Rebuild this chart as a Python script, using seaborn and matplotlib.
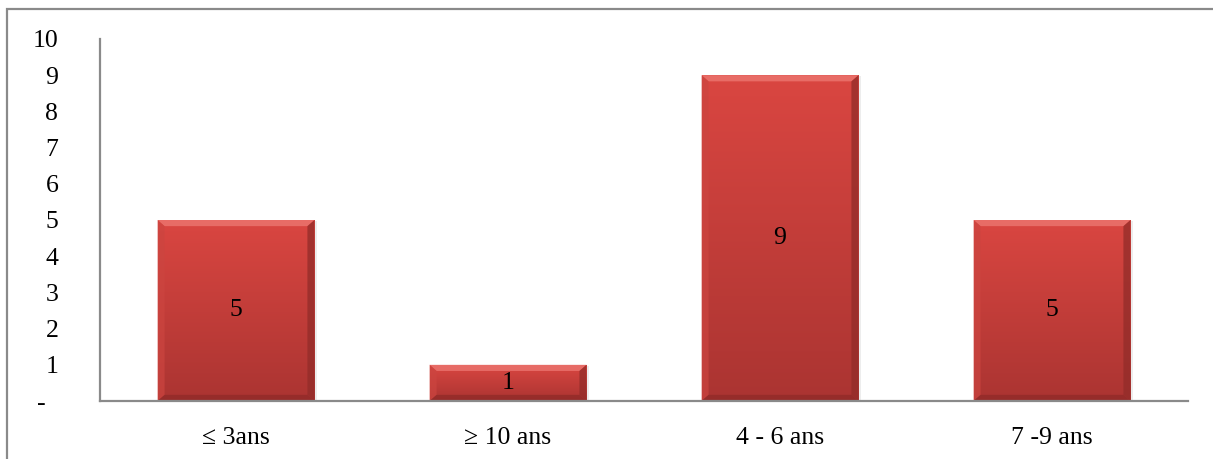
import numpy as np
import pandas as pd
import matplotlib
matplotlib.use("Agg")
import matplotlib.pyplot as plt
from matplotlib.patches import Rectangle, Polygon
import seaborn as sns

categories = ["\u2264 3ans", "\u2265 10 ans", "4 - 6 ans", "7 -9 ans"]
counts = [5, 1, 9, 5]
y_ticks = [0, 1, 2, 3, 4, 5, 6, 7, 8, 9, 10]
y_labels = ["-  ", "1", "2", "3", "4", "5", "6", "7", "8", "9", "10"]

sns.set_theme(style="white")
plt.rcParams["font.family"] = ["Liberation Serif", "DejaVu Serif"]

W, H, DPI = 1213, 459, 100
FS = 18.5
fig = plt.figure(figsize=(W / DPI, H / DPI), dpi=DPI)
fig.patch.set_facecolor("white")

# axes placed in pixel terms
x0, x1 = 100, 1188
y_top, y_bot = 39, 401
ax = fig.add_axes([x0 / W, 1 - y_bot / H, (x1 - x0) / W, (y_bot - y_top) / H])

df = pd.DataFrame({"cat": categories, "n": counts})
sns.barplot(data=df, x="cat", y="n", ax=ax, color="#c83c38", width=0.577,
            saturation=1, edgecolor="none", linewidth=0, zorder=2)

ax.set_ylim(0, 10)
ax.set_xlim(-0.5, len(categories) - 0.5)
ax.set_yticks(y_ticks)
ax.set_yticklabels(y_labels)
ax.set_xlabel("")
ax.set_ylabel("")
ax.tick_params(axis="y", length=0, pad=30, labelsize=FS, labelcolor="black")
ax.tick_params(axis="x", length=0, pad=19, labelsize=FS, labelcolor="black")
ax.grid(False)
for side in ["top", "right"]:
    ax.spines[side].set_visible(False)
for side in ["left", "bottom"]:
    ax.spines[side].set_color("#8a8a8a")
    ax.spines[side].set_linewidth(1.6)
    ax.spines[side].set_zorder(5)

# bevelled gradient look on each bar
grad = np.linspace(0, 1, 256).reshape(-1, 1)
top_col = np.array([0.855, 0.275, 0.255])
bot_col = np.array([0.67, 0.205, 0.195])
for p in list(ax.patches):
    bx, by = p.get_x(), p.get_y()
    bw, bh = p.get_width(), p.get_height()
    p.set_visible(False)
    # soft shadow to the right
    ax.add_patch(Rectangle((bx + bw * 0.02, by), bw * 0.995, bh - 0.03,
                           facecolor="black", alpha=0.07, edgecolor="none", zorder=1.5))
    img = top_col[None, None, :] * (1 - grad[:, :, None]) + bot_col[None, None, :] * grad[:, :, None]
    im = ax.imshow(img, extent=[bx, bx + bw, by, by + bh], aspect="auto",
                   origin="upper", zorder=2, interpolation="bilinear")
    clip = Rectangle((bx, by), bw, bh, transform=ax.transData)
    im.set_clip_path(clip)
    # bevel edges
    ex = bw * 0.045
    ey = min(0.17, bh * 0.3)
    ax.add_patch(Polygon([(bx, by + bh), (bx + bw, by + bh), (bx + bw - ex, by + bh - ey),
                          (bx + ex, by + bh - ey)], closed=True,
                         facecolor="#ec7670", edgecolor="none", alpha=0.8, zorder=3))
    ax.add_patch(Polygon([(bx, by), (bx, by + bh), (bx + ex, by + bh - ey), (bx + ex, by + ey)],
                         closed=True, facecolor="#cc4540", edgecolor="none", alpha=0.7, zorder=3))
    ax.add_patch(Polygon([(bx + bw, by), (bx + bw, by + bh), (bx + bw - ex, by + bh - ey),
                          (bx + bw - ex, by + ey)], closed=True,
                         facecolor="#922c29", edgecolor="none", alpha=0.75, zorder=3))
    ax.add_patch(Polygon([(bx, by), (bx + bw, by), (bx + bw - ex, by + ey), (bx + ex, by + ey)],
                         closed=True, facecolor="#8f2a28", edgecolor="none", alpha=0.75, zorder=3))

# value labels centred in each bar
for i, v in enumerate(counts):
    ax.text(i, v / 2, f"{v}", ha="center", va="center", fontsize=FS,
            color="black", zorder=6)

ax.set_facecolor("none")

# chart frame
fig.add_artist(Rectangle((7 / W, -0.05), 1.1, 1 - 9 / H + 0.05, transform=fig.transFigure,
                         facecolor="none", edgecolor="#8a8a8a", linewidth=1.6))

fig.savefig("out.png", dpi=DPI, facecolor="white")
